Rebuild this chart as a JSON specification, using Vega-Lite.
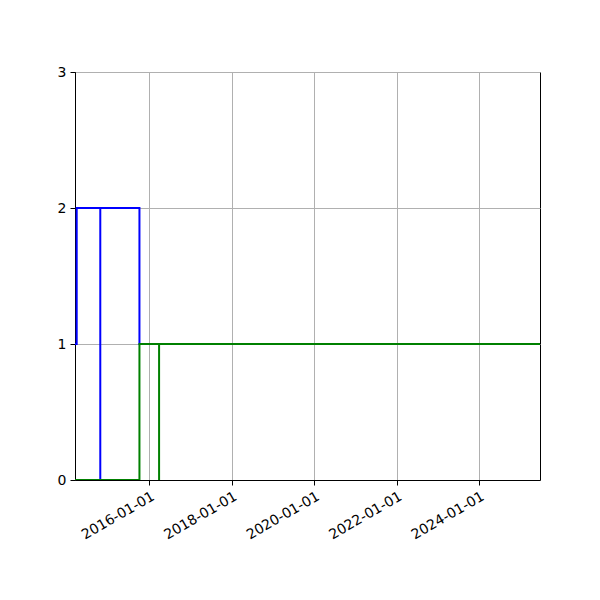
{
  "$schema": "https://vega.github.io/schema/vega-lite/v6.json",
  "width": 465,
  "height": 408,
  "autosize": {"type": "none"},
  "padding": {"left": 75, "top": 72, "right": 60, "bottom": 120},
  "background": "white",
  "data": {
    "values": [
      {"series": "blue", "step": 1, "date": "2014-03-09", "count": 1},
      {"series": "blue", "step": 2, "date": "2014-03-27", "count": 2},
      {"series": "blue", "step": 3, "date": "2014-10-22", "count": 0},
      {"series": "blue", "step": 4, "date": "2014-10-22", "count": 2},
      {"series": "blue", "step": 5, "date": "2015-10-04", "count": 1},
      {"series": "blue", "step": 6, "date": "2025-06-22", "count": 1},
      {"series": "green", "step": 1, "date": "2014-03-09", "count": 0},
      {"series": "green", "step": 2, "date": "2015-10-04", "count": 1},
      {"series": "green", "step": 3, "date": "2016-03-26", "count": 0},
      {"series": "green", "step": 4, "date": "2016-03-26", "count": 1},
      {"series": "green", "step": 5, "date": "2025-06-22", "count": 1}
    ]
  },
  "encoding": {
    "x": {
      "field": "date",
      "type": "temporal",
      "scale": {
        "type": "utc",
        "nice": false,
        "domain": [
          {"year": 2014, "month": 3, "date": 12, "utc": true},
          {"year": 2025, "month": 6, "date": 22, "utc": true}
        ]
      },
      "axis": {
        "title": null,
        "format": "%Y-%m-%d",
        "values": [
          {"year": 2016, "month": 1, "date": 1, "utc": true},
          {"year": 2018, "month": 1, "date": 1, "utc": true},
          {"year": 2020, "month": 1, "date": 1, "utc": true},
          {"year": 2022, "month": 1, "date": 1, "utc": true},
          {"year": 2024, "month": 1, "date": 1, "utc": true}
        ],
        "labelAngle": -30,
        "labelAlign": "right",
        "labelBaseline": "top",
        "labelPadding": 4
      }
    },
    "y": {
      "field": "count",
      "type": "quantitative",
      "scale": {"domain": [0, 3], "nice": false, "zero": false},
      "axis": {"title": null, "values": [0, 1, 2, 3], "format": "d"}
    },
    "order": {"field": "step", "type": "quantitative"}
  },
  "layer": [
    {
      "transform": [{"filter": "datum.series === 'blue'"}],
      "mark": {"type": "line", "interpolate": "step-after", "color": "#0000ff", "strokeWidth": 2, "clip": true}
    },
    {
      "transform": [{"filter": "datum.series === 'green'"}],
      "mark": {"type": "line", "interpolate": "step-after", "color": "#008000", "strokeWidth": 2, "clip": true}
    }
  ],
  "config": {
    "view": {"stroke": "black", "strokeWidth": 1},
    "axis": {
      "labelFont": "DejaVu Sans",
      "labelFontSize": 14,
      "labelColor": "black",
      "domainColor": "black",
      "tickColor": "black",
      "tickSize": 5,
      "grid": true,
      "gridColor": "#b0b0b0",
      "gridWidth": 1,
      "labelPadding": 4
    }
  }
}
